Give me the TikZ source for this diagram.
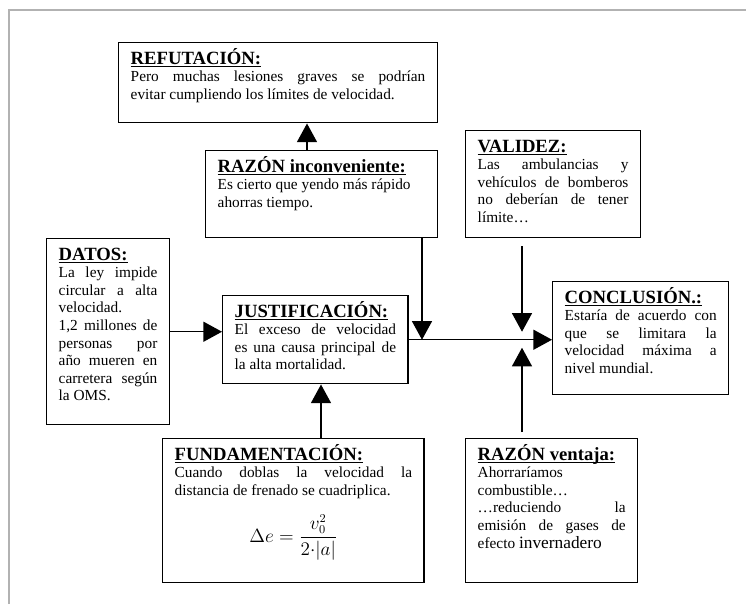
\documentclass[tikz,border=0pt]{standalone}
\usepackage{fontspec}
\setmainfont{Liberation Serif}
\usepackage{amsmath}
\usepackage{tikz}
\usetikzlibrary{arrows.meta}
\usetikzlibrary{calc}

\newcommand{\titulo}[1]{{\fontsize{14}{16}\selectfont\bfseries\underline{\smash{#1}}}\par}
\hbadness=10000

\begin{document}
\begin{tikzpicture}[
	x=0.75pt, y=-0.75pt,
	caja/.style={draw, line width=1.1pt, anchor=north west, align=justify,
		inner xsep=9pt, inner ysep=4pt, text height=12pt,
		font={\fontsize{11.5}{13.2}\selectfont}},
	flecha/.style={-{Triangle[width=15pt,length=14pt]}, line width=1.1pt}
]
	\useasboundingbox (0,0) rectangle (746,604);
	\draw[gray!60, line width=0.8pt] (9,604) -- (9,10) -- (746,10);

	\node[caja, text width=221pt, text depth=40pt] (refutacion) at (118,42) {%
		\titulo{REFUTACIÓN:}
		Pero muchas lesiones graves se podrían\linebreak
		evitar cumpliendo los límites de velocidad.};
	\node[caja, text width=156pt, text depth=45pt] (razoninc) at (205,150) {%
		\titulo{RAZÓN inconveniente:}
		Es cierto que yendo más rápido\newline
		ahorras tiempo.};
	\node[caja, text width=74pt, text depth=119.5pt] (datos) at (46,238) {%
		\titulo{DATOS:}
		La ley impide\linebreak circular a alta\linebreak velocidad.\par
		1,2 millones de\linebreak personas por\linebreak año mueren en\linebreak
		carretera según\linebreak la OMS.};
	\node[caja, text width=121pt, text depth=46pt] (justificacion) at (222,295) {%
		\titulo{JUSTIFICACIÓN:}
		El exceso de velocidad\linebreak es una causa principal de\linebreak
		la alta mortalidad.};
	\node[caja, text width=113pt, text depth=60pt] (validez) at (465,130) {%
		\titulo{VALIDEZ:}
		Las ambulancias y\linebreak vehículos de bomberos\linebreak
		no deberían de tener\linebreak límite…};
	\node[caja, text width=114pt, text depth=64.5pt] (conclusion) at (552,281) {%
		\titulo{CONCLUSIÓN.:}
		Estaría de acuerdo con\linebreak que se limitara la\linebreak
		velocidad máxima a\linebreak nivel mundial.};
	\node[caja, text width=178pt, text depth=88pt] (fundamentacion) at (162,438) {%
		\titulo{FUNDAMENTACIÓN:}
		Cuando doblas la velocidad la\linebreak
		distancia de frenado se cuadriplica.\par\vspace{11pt}
		{\centering\fontsize{13.5}{14}\selectfont
		$\displaystyle \Delta e=\frac{v_0^2}{2{\cdot}|a|}$\par}};
	\node[caja, text width=111pt, text depth=88pt] (razonvent) at (465,438) {%
		\titulo{RAZÓN ventaja:}
		Ahorraríamos\par combustible…\par
		…reduciendo la\linebreak emisión de gases de\linebreak
		efecto {\fontsize{13}{13.2}\selectfont invernadero}};

	% flechas
	\draw[flecha] (datos.east) -- (datos.east -| justificacion.west);
	\draw[flecha] (321,0 |- fundamentacion.north) -- (321,0 |- justificacion.south);
	\draw[flecha] (307,0 |- razoninc.north) -- (307,0 |- refutacion.south);
	\draw[flecha] (422,0 |- razoninc.south) -- (422,0 |- justificacion.east);
	\draw[flecha] (justificacion.east) -- (justificacion.east -| conclusion.west);

	\coordinate (cruce) at (justificacion.east -| 522,0);
	\draw[flecha] ($(cruce |- validez.south)+(0,8)$) -- ($(cruce)+(0,-8)$);
	\draw[flecha] ($(cruce |- razonvent.north)+(0,-6)$) -- ($(cruce)+(0,8)$);
\end{tikzpicture}
\end{document}
